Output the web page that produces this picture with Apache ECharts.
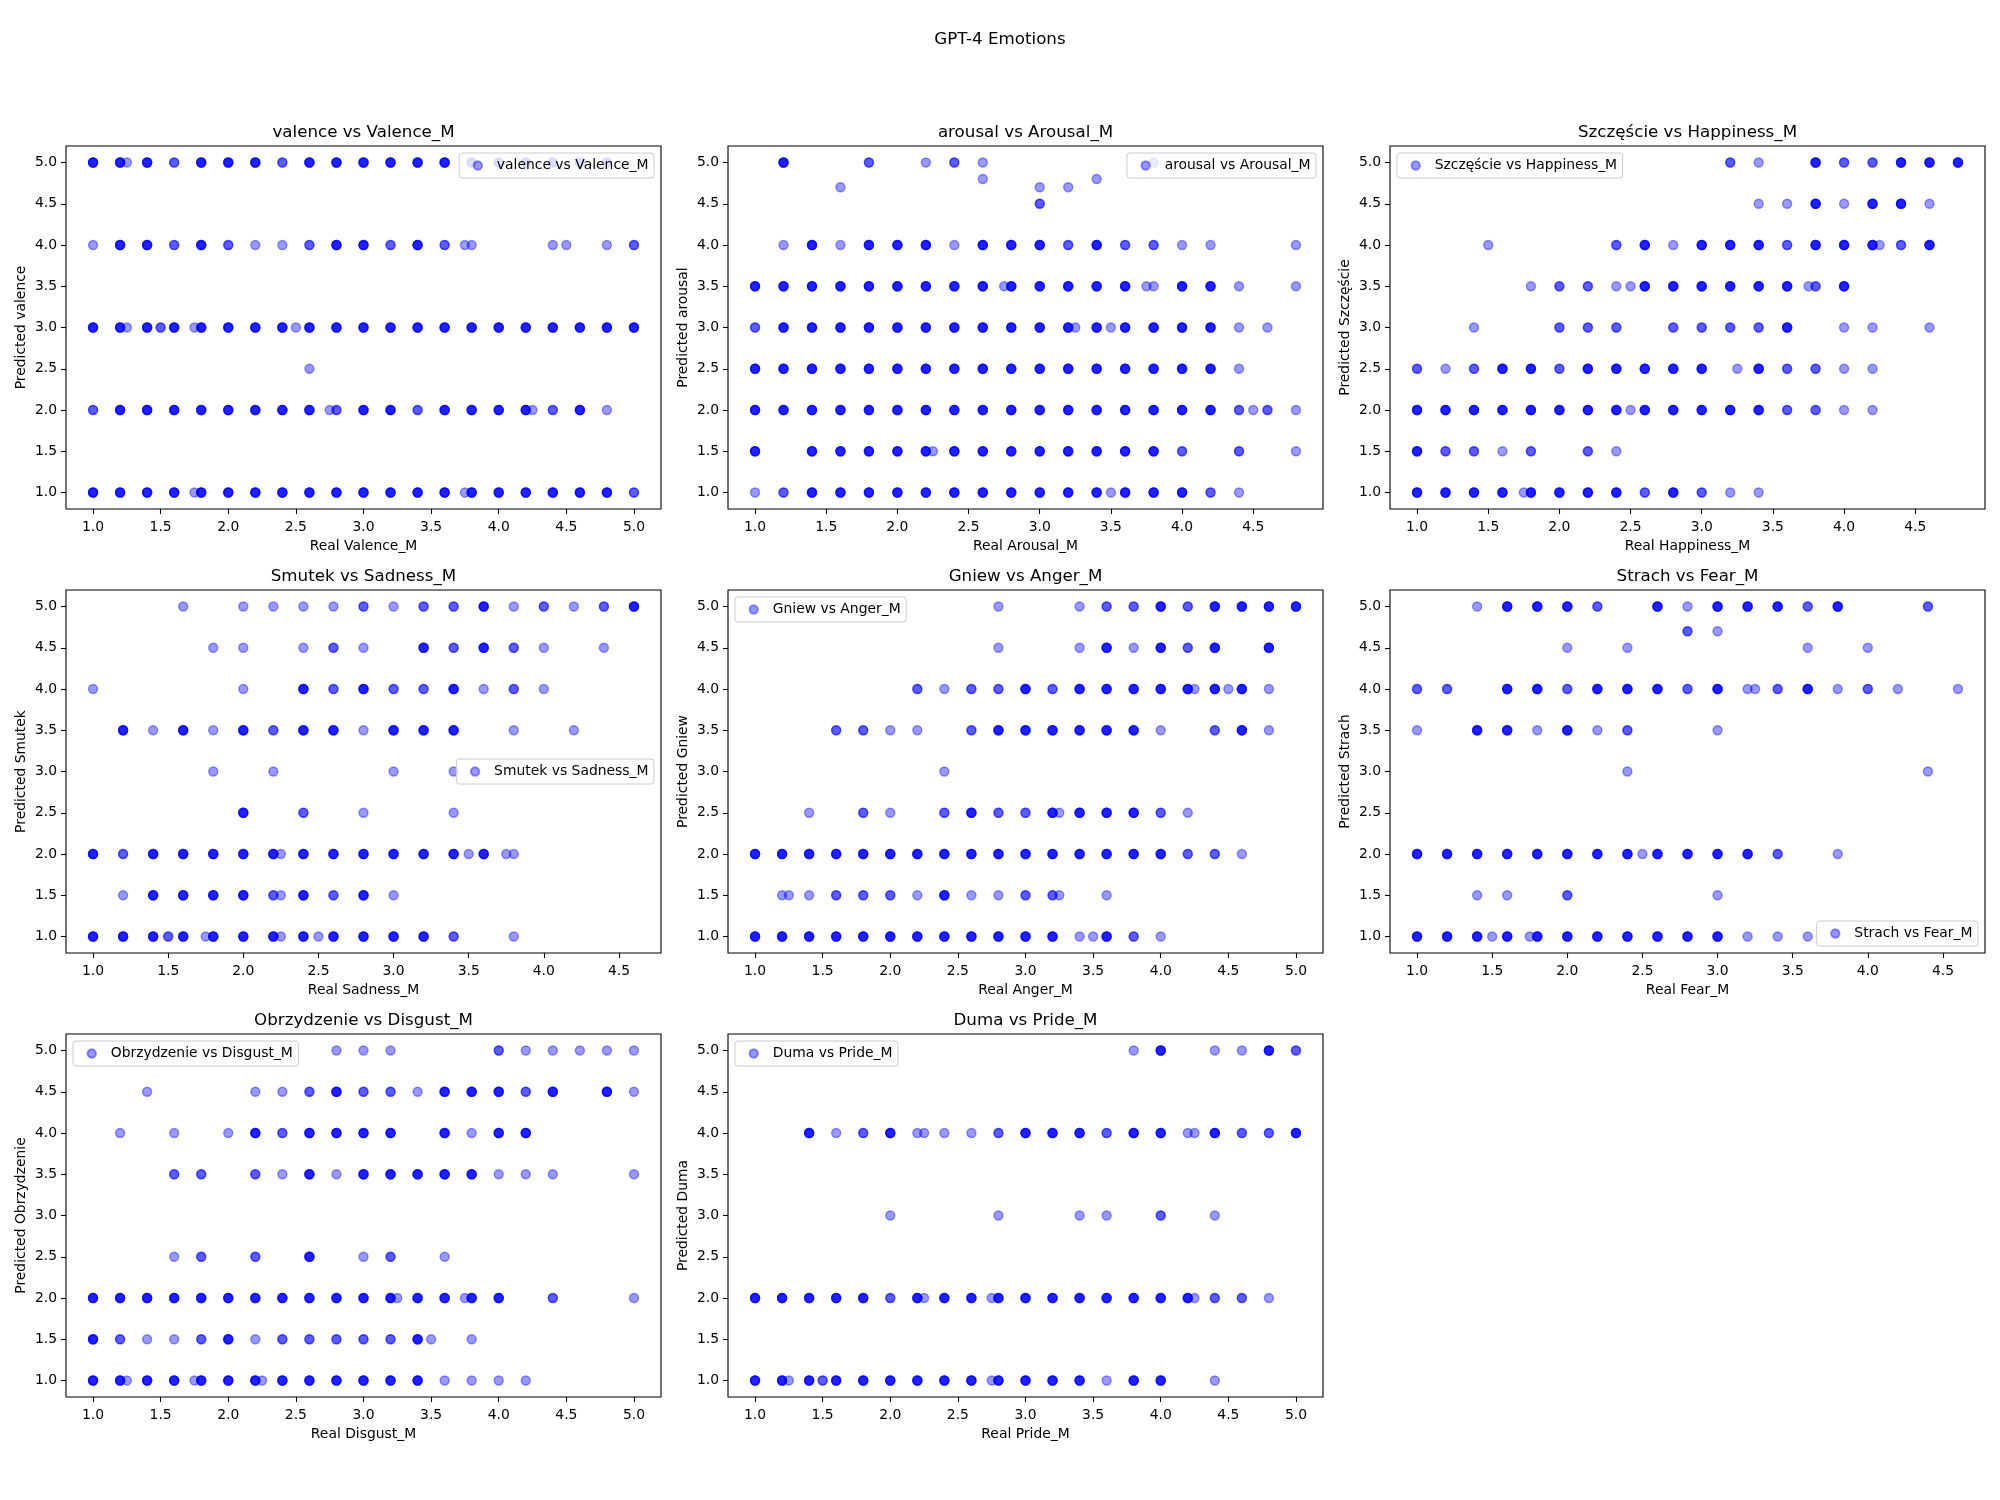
<!DOCTYPE html>
<html><head><meta charset="utf-8">
<script src="https://cdn.jsdelivr.net/npm/echarts@6/dist/echarts.min.js"></script>
<style>html,body{margin:0;padding:0;background:#fff}#chart{width:2000px;height:1500px}</style>
</head><body><div id="chart"></div>
<script>
const suptitle = 'GPT-4 Emotions';
const panelTitles = ['valence vs Valence_M','arousal vs Arousal_M','Szczęście vs Happiness_M','Smutek vs Sadness_M','Gniew vs Anger_M','Strach vs Fear_M','Obrzydzenie vs Disgust_M','Duma vs Pride_M'];
const xAxisNames = ['Real Valence_M','Real Arousal_M','Real Happiness_M','Real Sadness_M','Real Anger_M','Real Fear_M','Real Disgust_M','Real Pride_M'];
const yAxisNames = ['Predicted valence','Predicted arousal','Predicted Szczęście','Predicted Smutek','Predicted Gniew','Predicted Strach','Predicted Obrzydzenie','Predicted Duma'];
const tickValues = [1.0,1.5,2.0,2.5,3.0,3.5,4.0,4.5,5.0];

// each entry: [real value, predicted value, number of overlapping points]
const valencePoints = [
[1.0,5,4],[1.2,5,4],[1.25,5,1],[1.4,5,4],[1.6,5,2],[1.8,5,4],[2.0,5,4],[2.2,5,4],[2.4,5,2],[2.6,5,4],[2.8,5,4],[3.0,5,4],[3.2,5,4],[3.4,5,4],[3.6,5,4],[3.8,5,2],[4.0,5,2],[4.2,5,2],[4.4,5,2],[4.6,5,2],[4.8,5,2],
[1.0,4,1],[1.2,4,4],[1.4,4,4],[1.6,4,2],[1.8,4,4],[2.0,4,2],[2.2,4,1],[2.4,4,1],[2.6,4,2],[2.8,4,4],[3.0,4,4],[3.2,4,2],[3.4,4,4],[3.6,4,2],[3.75,4,1],[3.8,4,1],[4.4,4,1],[4.5,4,1],[4.8,4,1],[5.0,4,2],
[1.0,3,4],[1.2,3,4],[1.25,3,1],[1.4,3,4],[1.5,3,2],[1.6,3,4],[1.75,3,1],[1.8,3,4],[2.0,3,4],[2.2,3,4],[2.4,3,4],[2.5,3,1],[2.6,3,4],[2.8,3,4],[3.0,3,4],[3.2,3,4],[3.4,3,4],[3.6,3,4],[3.8,3,4],[4.0,3,4],[4.2,3,4],[4.4,3,4],[4.6,3,4],[4.8,3,4],[5.0,3,4],
[2.6,2.5,1],
[1.0,2,2],[1.2,2,4],[1.4,2,4],[1.6,2,4],[1.8,2,4],[2.0,2,4],[2.2,2,4],[2.4,2,4],[2.6,2,4],[2.75,2,1],[2.8,2,2],[3.0,2,4],[3.2,2,4],[3.4,2,2],[3.6,2,4],[3.8,2,4],[4.0,2,4],[4.2,2,4],[4.25,2,1],[4.4,2,2],[4.6,2,4],[4.8,2,1],
[1.0,1,4],[1.2,1,4],[1.4,1,4],[1.6,1,4],[1.75,1,1],[1.8,1,4],[2.0,1,4],[2.2,1,4],[2.4,1,4],[2.6,1,4],[2.8,1,4],[3.0,1,4],[3.2,1,4],[3.4,1,4],[3.6,1,4],[3.75,1,1],[3.8,1,4],[4.0,1,4],[4.2,1,4],[4.4,1,4],[4.6,1,4],[4.8,1,4],[5.0,1,2]
];
const arousalPoints = [
[1.2,5,4],[1.8,5,2],[2.2,5,1],[2.4,5,2],[2.6,5,1],[3.8,5,1],
[2.6,4.8,1],[3.4,4.8,1],
[1.6,4.7,1],[3.0,4.7,1],[3.2,4.7,1],
[3.0,4.5,2],
[1.2,4,1],[1.4,4,4],[1.6,4,1],[1.8,4,4],[2.0,4,4],[2.2,4,4],[2.4,4,1],[2.6,4,4],[2.8,4,4],[3.0,4,4],[3.2,4,2],[3.4,4,4],[3.6,4,2],[3.8,4,2],[4.0,4,1],[4.2,4,1],[4.8,4,1],
[1.0,3.5,4],[1.2,3.5,4],[1.4,3.5,4],[1.6,3.5,4],[1.8,3.5,4],[2.0,3.5,4],[2.2,3.5,4],[2.4,3.5,4],[2.6,3.5,4],[2.75,3.5,1],[2.8,3.5,4],[3.0,3.5,4],[3.2,3.5,4],[3.4,3.5,4],[3.6,3.5,4],[3.75,3.5,1],[3.8,3.5,1],[4.0,3.5,4],[4.2,3.5,4],[4.4,3.5,1],[4.8,3.5,1],
[1.0,3,2],[1.2,3,4],[1.4,3,4],[1.6,3,4],[1.8,3,4],[2.0,3,4],[2.2,3,4],[2.4,3,4],[2.6,3,4],[2.8,3,4],[3.0,3,4],[3.2,3,4],[3.25,3,1],[3.4,3,4],[3.5,3,1],[3.6,3,4],[3.8,3,4],[4.0,3,4],[4.2,3,4],[4.4,3,1],[4.6,3,1],
[1.0,2.5,4],[1.2,2.5,4],[1.4,2.5,4],[1.6,2.5,4],[1.8,2.5,4],[2.0,2.5,4],[2.2,2.5,4],[2.4,2.5,4],[2.6,2.5,4],[2.8,2.5,4],[3.0,2.5,4],[3.2,2.5,4],[3.4,2.5,4],[3.6,2.5,4],[3.8,2.5,4],[4.0,2.5,4],[4.2,2.5,4],[4.4,2.5,1],
[1.0,2,4],[1.2,2,4],[1.4,2,4],[1.6,2,4],[1.8,2,4],[2.0,2,4],[2.2,2,4],[2.4,2,4],[2.6,2,4],[2.8,2,4],[3.0,2,4],[3.2,2,4],[3.4,2,4],[3.6,2,4],[3.8,2,4],[4.0,2,4],[4.2,2,4],[4.4,2,2],[4.5,2,1],[4.6,2,2],[4.8,2,1],
[1.0,1.5,4],[1.4,1.5,4],[1.6,1.5,4],[1.8,1.5,4],[2.0,1.5,4],[2.2,1.5,4],[2.25,1.5,1],[2.4,1.5,4],[2.6,1.5,4],[2.8,1.5,4],[3.0,1.5,4],[3.2,1.5,4],[3.4,1.5,4],[3.6,1.5,4],[3.8,1.5,4],[4.0,1.5,2],[4.4,1.5,2],[4.8,1.5,1],
[1.0,1,1],[1.2,1,2],[1.4,1,4],[1.6,1,4],[1.8,1,4],[2.0,1,4],[2.2,1,4],[2.4,1,4],[2.6,1,4],[2.8,1,4],[3.0,1,4],[3.2,1,4],[3.4,1,4],[3.5,1,1],[3.6,1,4],[3.8,1,4],[4.0,1,4],[4.2,1,2],[4.4,1,1]
];
const happinessPoints = [
[3.2,5,2],[3.4,5,1],[3.8,5,4],[4.0,5,2],[4.2,5,2],[4.4,5,4],[4.6,5,4],[4.8,5,4],
[3.4,4.5,1],[3.6,4.5,1],[3.8,4.5,4],[4.0,4.5,1],[4.2,4.5,4],[4.4,4.5,4],[4.6,4.5,1],
[1.5,4,1],[2.4,4,2],[2.6,4,4],[2.8,4,1],[3.0,4,4],[3.2,4,4],[3.4,4,4],[3.6,4,2],[3.8,4,4],[4.0,4,4],[4.2,4,4],[4.25,4,1],[4.4,4,2],[4.6,4,4],
[1.8,3.5,1],[2.0,3.5,2],[2.2,3.5,2],[2.4,3.5,1],[2.5,3.5,1],[2.6,3.5,4],[2.8,3.5,4],[3.0,3.5,4],[3.2,3.5,4],[3.4,3.5,4],[3.6,3.5,4],[3.75,3.5,1],[3.8,3.5,2],[4.0,3.5,4],
[1.4,3,1],[2.0,3,2],[2.2,3,2],[2.4,3,2],[2.8,3,2],[3.0,3,2],[3.2,3,2],[3.4,3,2],[3.6,3,4],[4.0,3,1],[4.2,3,1],[4.6,3,1],
[1.0,2.5,2],[1.2,2.5,1],[1.4,2.5,2],[1.6,2.5,4],[1.8,2.5,4],[2.0,2.5,2],[2.2,2.5,4],[2.4,2.5,4],[2.6,2.5,4],[2.8,2.5,4],[3.0,2.5,4],[3.25,2.5,1],[3.4,2.5,4],[3.6,2.5,2],[3.8,2.5,2],[4.0,2.5,1],[4.2,2.5,1],
[1.0,2,4],[1.2,2,4],[1.4,2,4],[1.6,2,4],[1.8,2,4],[2.0,2,4],[2.2,2,4],[2.4,2,4],[2.5,2,1],[2.6,2,4],[2.8,2,4],[3.0,2,4],[3.2,2,4],[3.4,2,4],[3.6,2,2],[3.8,2,2],[4.0,2,1],[4.2,2,1],
[1.0,1.5,4],[1.2,1.5,2],[1.4,1.5,2],[1.6,1.5,1],[1.8,1.5,2],[2.2,1.5,2],[2.4,1.5,1],
[1.0,1,4],[1.2,1,4],[1.4,1,4],[1.6,1,4],[1.75,1,1],[1.8,1,4],[2.0,1,4],[2.2,1,4],[2.4,1,4],[2.6,1,2],[2.8,1,4],[3.0,1,2],[3.2,1,1],[3.4,1,1]
];
const sadnessPoints = [
[1.6,5,1],[2.0,5,1],[2.2,5,1],[2.4,5,1],[2.6,5,1],[2.8,5,2],[3.0,5,1],[3.2,5,2],[3.4,5,2],[3.6,5,4],[3.8,5,1],[4.0,5,2],[4.2,5,1],[4.4,5,2],[4.6,5,4],
[1.8,4.5,1],[2.0,4.5,1],[2.4,4.5,1],[2.6,4.5,2],[2.8,4.5,1],[3.2,4.5,4],[3.4,4.5,2],[3.6,4.5,4],[3.8,4.5,2],[4.0,4.5,1],[4.4,4.5,1],
[1.0,4,1],[2.0,4,1],[2.4,4,4],[2.6,4,2],[2.8,4,4],[3.0,4,2],[3.2,4,2],[3.4,4,4],[3.6,4,1],[3.8,4,2],[4.0,4,1],
[1.2,3.5,4],[1.4,3.5,1],[1.6,3.5,4],[1.8,3.5,1],[2.0,3.5,4],[2.2,3.5,2],[2.4,3.5,4],[2.6,3.5,4],[2.8,3.5,1],[3.0,3.5,4],[3.2,3.5,4],[3.4,3.5,4],[3.8,3.5,1],[4.2,3.5,1],
[1.8,3,1],[2.2,3,1],[3.0,3,1],[3.4,3,1],
[2.0,2.5,4],[2.4,2.5,2],[2.8,2.5,1],[3.4,2.5,1],
[1.0,2,4],[1.2,2,2],[1.4,2,4],[1.6,2,4],[1.8,2,4],[2.0,2,4],[2.2,2,4],[2.25,2,1],[2.4,2,4],[2.6,2,4],[2.8,2,4],[3.0,2,4],[3.2,2,4],[3.4,2,4],[3.5,2,1],[3.6,2,4],[3.75,2,1],[3.8,2,1],
[1.2,1.5,1],[1.4,1.5,4],[1.6,1.5,4],[1.8,1.5,4],[2.0,1.5,4],[2.2,1.5,2],[2.25,1.5,1],[2.4,1.5,4],[2.6,1.5,2],[2.8,1.5,4],[3.0,1.5,1],
[1.0,1,4],[1.2,1,4],[1.4,1,4],[1.5,1,2],[1.6,1,4],[1.75,1,1],[1.8,1,4],[2.0,1,4],[2.2,1,4],[2.25,1,1],[2.4,1,4],[2.5,1,1],[2.6,1,4],[2.8,1,4],[3.0,1,4],[3.2,1,4],[3.4,1,2],[3.8,1,1]
];
const angerPoints = [
[2.8,5,1],[3.4,5,1],[3.6,5,2],[3.8,5,2],[4.0,5,4],[4.2,5,2],[4.4,5,4],[4.6,5,4],[4.8,5,4],[5.0,5,4],
[2.8,4.5,1],[3.4,4.5,1],[3.6,4.5,4],[3.8,4.5,1],[4.0,4.5,4],[4.2,4.5,2],[4.4,4.5,4],[4.8,4.5,4],
[2.2,4,2],[2.4,4,1],[2.6,4,2],[2.8,4,2],[3.0,4,4],[3.2,4,2],[3.4,4,4],[3.6,4,4],[3.8,4,4],[4.0,4,4],[4.2,4,4],[4.25,4,1],[4.4,4,4],[4.5,4,1],[4.6,4,4],[4.8,4,1],
[1.6,3.5,2],[1.8,3.5,2],[2.0,3.5,1],[2.2,3.5,1],[2.6,3.5,2],[2.8,3.5,4],[3.0,3.5,4],[3.2,3.5,4],[3.4,3.5,4],[3.6,3.5,4],[3.8,3.5,4],[4.0,3.5,1],[4.4,3.5,2],[4.6,3.5,4],[4.8,3.5,1],
[2.4,3,1],
[1.4,2.5,1],[1.8,2.5,2],[2.0,2.5,1],[2.4,2.5,2],[2.6,2.5,4],[2.8,2.5,2],[3.0,2.5,2],[3.2,2.5,4],[3.25,2.5,1],[3.4,2.5,4],[3.6,2.5,4],[3.8,2.5,4],[4.0,2.5,2],[4.2,2.5,1],
[1.0,2,4],[1.2,2,4],[1.4,2,4],[1.6,2,4],[1.8,2,4],[2.0,2,4],[2.2,2,4],[2.4,2,4],[2.6,2,4],[2.8,2,4],[3.0,2,4],[3.2,2,4],[3.4,2,4],[3.6,2,4],[3.8,2,4],[4.0,2,4],[4.2,2,2],[4.4,2,2],[4.6,2,1],
[1.2,1.5,1],[1.25,1.5,1],[1.4,1.5,1],[1.6,1.5,2],[1.8,1.5,2],[2.0,1.5,2],[2.2,1.5,1],[2.4,1.5,4],[2.6,1.5,1],[2.8,1.5,1],[3.0,1.5,2],[3.2,1.5,2],[3.25,1.5,1],[3.6,1.5,1],
[1.0,1,4],[1.2,1,4],[1.4,1,4],[1.6,1,4],[1.8,1,4],[2.0,1,4],[2.2,1,4],[2.4,1,4],[2.6,1,4],[2.8,1,4],[3.0,1,4],[3.2,1,4],[3.4,1,1],[3.5,1,1],[3.6,1,4],[3.8,1,2],[4.0,1,1]
];
const fearPoints = [
[1.4,5,1],[1.6,5,4],[1.8,5,4],[2.0,5,4],[2.2,5,2],[2.6,5,4],[2.8,5,1],[3.0,5,4],[3.2,5,4],[3.4,5,4],[3.6,5,2],[3.8,5,4],[4.4,5,2],
[2.8,4.7,2],[3.0,4.7,1],
[2.0,4.5,1],[2.4,4.5,1],[3.6,4.5,1],[4.0,4.5,1],
[1.0,4,2],[1.2,4,2],[1.6,4,4],[1.8,4,4],[2.0,4,2],[2.2,4,4],[2.4,4,4],[2.6,4,4],[2.8,4,2],[3.0,4,4],[3.2,4,1],[3.25,4,1],[3.4,4,2],[3.6,4,4],[3.8,4,1],[4.0,4,2],[4.2,4,1],[4.6,4,1],
[1.0,3.5,1],[1.4,3.5,4],[1.6,3.5,4],[1.8,3.5,1],[2.0,3.5,4],[2.2,3.5,1],[2.4,3.5,2],[3.0,3.5,1],
[2.4,3,1],[4.4,3,1],
[1.0,2,4],[1.2,2,4],[1.4,2,4],[1.6,2,4],[1.8,2,4],[2.0,2,4],[2.2,2,4],[2.4,2,4],[2.5,2,1],[2.6,2,4],[2.8,2,4],[3.0,2,4],[3.2,2,4],[3.4,2,2],[3.8,2,1],
[1.4,1.5,1],[1.6,1.5,1],[2.0,1.5,2],[3.0,1.5,1],
[1.0,1,4],[1.2,1,4],[1.4,1,4],[1.5,1,1],[1.6,1,4],[1.75,1,1],[1.8,1,4],[2.0,1,4],[2.2,1,4],[2.4,1,4],[2.6,1,4],[2.8,1,4],[3.0,1,4],[3.2,1,1],[3.4,1,1],[3.6,1,1]
];
const disgustPoints = [
[2.8,5,1],[3.0,5,1],[3.2,5,1],[4.0,5,2],[4.2,5,1],[4.4,5,1],[4.6,5,1],[4.8,5,1],[5.0,5,1],
[1.4,4.5,1],[2.2,4.5,1],[2.4,4.5,1],[2.6,4.5,2],[2.8,4.5,4],[3.0,4.5,2],[3.2,4.5,2],[3.4,4.5,1],[3.6,4.5,4],[3.8,4.5,4],[4.0,4.5,4],[4.2,4.5,2],[4.4,4.5,4],[4.8,4.5,4],[5.0,4.5,1],
[1.2,4,1],[1.6,4,1],[2.0,4,1],[2.2,4,4],[2.4,4,2],[2.6,4,4],[2.8,4,4],[3.0,4,4],[3.2,4,4],[3.6,4,4],[3.8,4,1],[4.0,4,4],[4.2,4,4],
[1.6,3.5,2],[1.8,3.5,2],[2.2,3.5,2],[2.4,3.5,1],[2.6,3.5,4],[2.8,3.5,1],[3.0,3.5,4],[3.2,3.5,4],[3.4,3.5,4],[3.6,3.5,4],[3.8,3.5,4],[4.0,3.5,1],[4.2,3.5,1],[4.4,3.5,1],[5.0,3.5,1],
[1.6,2.5,1],[1.8,2.5,2],[2.2,2.5,2],[2.6,2.5,4],[3.0,2.5,1],[3.2,2.5,2],[3.6,2.5,1],
[1.0,2,4],[1.2,2,4],[1.4,2,4],[1.6,2,4],[1.8,2,4],[2.0,2,4],[2.2,2,4],[2.4,2,4],[2.6,2,4],[2.8,2,4],[3.0,2,4],[3.2,2,4],[3.25,2,1],[3.4,2,4],[3.6,2,4],[3.75,2,1],[3.8,2,4],[4.0,2,4],[4.4,2,2],[5.0,2,1],
[1.0,1.5,4],[1.2,1.5,2],[1.4,1.5,1],[1.6,1.5,1],[1.8,1.5,2],[2.0,1.5,4],[2.2,1.5,1],[2.4,1.5,2],[2.6,1.5,2],[2.8,1.5,2],[3.0,1.5,2],[3.2,1.5,2],[3.4,1.5,4],[3.5,1.5,1],[3.8,1.5,1],
[1.0,1,4],[1.2,1,4],[1.25,1,1],[1.4,1,4],[1.6,1,4],[1.75,1,1],[1.8,1,4],[2.0,1,4],[2.2,1,4],[2.25,1,1],[2.4,1,4],[2.6,1,4],[2.8,1,4],[3.0,1,4],[3.2,1,4],[3.4,1,4],[3.6,1,1],[3.8,1,1],[4.0,1,1],[4.2,1,1]
];
const pridePoints = [
[3.8,5,1],[4.0,5,4],[4.4,5,1],[4.6,5,1],[4.8,5,4],[5.0,5,2],
[1.4,4,4],[1.6,4,1],[1.8,4,2],[2.0,4,4],[2.2,4,1],[2.25,4,1],[2.4,4,1],[2.6,4,1],[2.8,4,2],[3.0,4,4],[3.2,4,4],[3.4,4,4],[3.6,4,2],[3.8,4,4],[4.0,4,4],[4.2,4,1],[4.25,4,1],[4.4,4,4],[4.6,4,2],[4.8,4,2],[5.0,4,4],
[2.0,3,1],[2.8,3,1],[3.4,3,1],[3.6,3,1],[4.0,3,2],[4.4,3,1],
[1.0,2,4],[1.2,2,4],[1.4,2,4],[1.6,2,4],[1.8,2,4],[2.0,2,2],[2.2,2,4],[2.25,2,1],[2.4,2,4],[2.6,2,4],[2.75,2,1],[2.8,2,4],[3.0,2,4],[3.2,2,4],[3.4,2,4],[3.6,2,4],[3.8,2,4],[4.0,2,4],[4.2,2,4],[4.25,2,1],[4.4,2,2],[4.6,2,2],[4.8,2,1],
[1.0,1,4],[1.2,1,4],[1.25,1,1],[1.4,1,4],[1.5,1,2],[1.6,1,4],[1.8,1,4],[2.0,1,4],[2.2,1,4],[2.4,1,4],[2.6,1,4],[2.75,1,1],[2.8,1,4],[3.0,1,4],[3.2,1,4],[3.4,1,4],[3.6,1,1],[3.8,1,4],[4.0,1,4],[4.4,1,1]
];

const pointSets = [valencePoints, arousalPoints, happinessPoints, sadnessPoints, angerPoints, fearPoints, disgustPoints, pridePoints];
const legendLocs = ['upper right','upper right','upper left','center right','upper left','lower right','upper left','upper left'];

const FONT = 'DejaVu Sans';
const W = 2000;
const colLeft = [66, 728, 1390];
const rowTop = [146, 590, 1034];
const GW = 595, GH = 363;
const LEG_H = 25, LEG_PAD = 7;
const MARK = 'rgba(0,0,255,0.5)';

const grids = [], xAxes = [], yAxes = [], series = [], legends = [];
const titles = [{
  text: suptitle, left: W / 2, top: 31, textAlign: 'center', padding: 0,
  textStyle: { fontFamily: FONT, fontSize: 16.7, fontWeight: 'normal', color: '#000' }
}];

function extent(vals) {
  const lo = Math.min(...vals), hi = Math.max(...vals);
  const m = (hi - lo) * 0.05;
  return [lo - m, hi + m];
}

pointSets.forEach((pts, i) => {
  const r = Math.floor(i / 3), c = i % 3;
  const gl = colLeft[c], gt = rowTop[r];
  grids.push({ left: gl, top: gt, width: GW, height: GH, show: true, borderColor: '#000', borderWidth: 1.1, backgroundColor: 'transparent', containLabel: false });
  const [xmin, xmax] = extent(pts.map(p => p[0]));
  const [ymin, ymax] = extent(pts.map(p => p[1]));
  const xt = tickValues.filter(v => v >= xmin && v <= xmax);
  const yt = tickValues.filter(v => v >= ymin && v <= ymax);
  const labelStyle = { color: '#000', fontFamily: FONT, fontSize: 13.9 };
  xAxes.push({
    gridIndex: i, type: 'value', min: xmin, max: xmax,
    name: xAxisNames[i], nameLocation: 'middle', nameGap: 30,
    nameTextStyle: labelStyle,
    axisLine: { show: false },
    axisTick: { show: true, length: 5, lineStyle: { color: '#000', width: 1.1 }, customValues: xt },
    axisLabel: Object.assign({ customValues: xt, formatter: v => v.toFixed(1), margin: 11 }, labelStyle),
    splitLine: { show: false }
  });
  yAxes.push({
    gridIndex: i, type: 'value', min: ymin, max: ymax,
    name: yAxisNames[i], nameLocation: 'middle', nameGap: 38,
    nameTextStyle: labelStyle,
    axisLine: { show: false },
    axisTick: { show: true, length: 5, lineStyle: { color: '#000', width: 1.1 }, customValues: yt },
    axisLabel: Object.assign({ customValues: yt, formatter: v => v.toFixed(1), margin: 9 }, labelStyle),
    splitLine: { show: false }
  });
  const data = [];
  pts.forEach(p => { for (let k = 0; k < p[2]; k++) data.push([p[0], p[1]]); });
  series.push({
    type: 'scatter', name: panelTitles[i], xAxisIndex: i, yAxisIndex: i,
    data: data, symbol: 'circle', symbolSize: 9,
    itemStyle: { color: MARK, borderColor: MARK, borderWidth: 1.4 },
    silent: true, animation: false
  });
  titles.push({
    text: panelTitles[i], left: gl + GW / 2, top: gt - 22, textAlign: 'center', padding: 0,
    textStyle: { fontFamily: FONT, fontSize: 16.7, fontWeight: 'normal', color: '#000' }
  });
  const leg = {
    data: [panelTitles[i]], orient: 'horizontal', icon: 'circle',
    itemWidth: 28, itemHeight: 8.4, padding: [5.5, 5.5, 5.5, 13.5],
    backgroundColor: 'rgba(255,255,255,0.8)', borderColor: '#cccccc', borderWidth: 1, borderRadius: 3,
    selectedMode: false,
    textStyle: { fontFamily: FONT, fontSize: 13.9, color: '#000', lineHeight: 14 }
  };
  const loc = legendLocs[i];
  if (loc.indexOf('right') >= 0) leg.right = W - (gl + GW - LEG_PAD); else leg.left = gl + LEG_PAD;
  if (loc.indexOf('upper') === 0) leg.top = gt + LEG_PAD;
  else if (loc.indexOf('lower') === 0) leg.top = gt + GH - LEG_PAD - LEG_H;
  else leg.top = gt + GH / 2 - LEG_H / 2;
  legends.push(leg);
});

const chart = echarts.init(document.getElementById('chart'), null, { renderer: 'canvas', width: 2000, height: 1500 });
chart.setOption({
  backgroundColor: '#ffffff',
  animation: false,
  title: titles,
  grid: grids,
  xAxis: xAxes,
  yAxis: yAxes,
  legend: legends,
  series: series
});
</script>
</body></html>
